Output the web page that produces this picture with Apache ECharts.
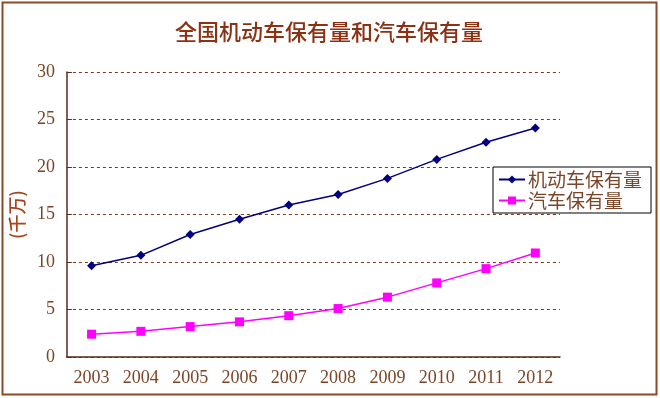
<!DOCTYPE html>
<html>
<head>
<meta charset="utf-8">
<script src="https://cdn.jsdelivr.net/npm/echarts@6/dist/echarts.min.js"></script>
<style>
html, body { margin: 0; padding: 0; background: #fff; }
#main { width: 660px; height: 398px; }
</style>
</head>
<body>
<div id="main"></div>
<script>
// years on the x axis
var years = ['2003', '2004', '2005', '2006', '2007', '2008', '2009', '2010', '2011', '2012'];
// 全国机动车保有量 (千万)
var motorVehicles = [9.6, 10.7, 12.9, 14.5, 16.0, 17.1, 18.8, 20.8, 22.6, 24.1];
// 汽车保有量 (千万)
var cars = [2.4, 2.7, 3.2, 3.7, 4.35, 5.1, 6.3, 7.8, 9.3, 10.95];

var chartDom = document.getElementById('main');
var myChart = echarts.init(chartDom);

var brown = '#7a4528';
var numFont = '"Liberation Serif", "DejaVu Serif", serif';
var cjkFont = '"Noto Sans CJK SC", sans-serif';

var option = {
  backgroundColor: '#fff',
  animation: false,
  title: {
    text: '全国机动车保有量和汽车保有量',
    left: 329,
    textAlign: 'center',
    top: 21,
    padding: 0,
    textStyle: { color: '#8c3214', fontSize: 22, fontWeight: 500, fontFamily: cjkFont }
  },
  legend: {
    orient: 'vertical',
    left: 493,
    top: 167,
    padding: [3, 9, 3, 5],
    itemGap: 2,
    itemWidth: 26,
    itemHeight: 10,
    borderColor: '#000',
    borderWidth: 1,
    backgroundColor: '#fff',
    textStyle: { color: brown, fontSize: 19, fontFamily: cjkFont, padding: [0, 0, 0, -2] },
    data: ['机动车保有量', '汽车保有量']
  },
  grid: { left: 66, right: 100, top: 72, bottom: 41 },
  xAxis: {
    type: 'category',
    data: years,
    axisLine: { lineStyle: { color: '#5a2a1a', width: 1.5 } },
    axisTick: { inside: true, length: 6, lineStyle: { color: '#5a2a1a' } },
    axisLabel: { color: brown, fontSize: 18, fontFamily: numFont, margin: 12 }
  },
  yAxis: {
    type: 'value',
    min: 0,
    max: 30,
    interval: 5,
    name: '(千万)',
    nameLocation: 'middle',
    nameGap: 38,
    nameRotate: 90,
    nameTextStyle: { color: '#a8441c', fontSize: 18, fontWeight: 500, fontFamily: cjkFont },
    axisLine: { show: true, lineStyle: { color: '#5a2a1a', width: 1.5 } },
    axisTick: { show: true, inside: true, length: 5, lineStyle: { color: '#5a2a1a' } },
    axisLabel: { color: brown, fontSize: 18, fontFamily: numFont, margin: 12 },
    splitLine: { lineStyle: { color: '#7a3a20', type: [3, 3], width: 1 } }
  },
  series: [
    {
      name: '机动车保有量',
      type: 'line',
      data: motorVehicles,
      symbol: 'diamond',
      symbolSize: 9,
      itemStyle: { color: '#000080' },
      lineStyle: { color: '#000080', width: 1.5 }
    },
    {
      name: '汽车保有量',
      type: 'line',
      data: cars,
      symbol: 'rect',
      symbolSize: 9,
      itemStyle: { color: '#ff00ff' },
      lineStyle: { color: '#ff00ff', width: 1.5 }
    }
  ],
  graphic: [
    {
      type: 'rect',
      shape: { x: 2.5, y: 2.5, width: 654, height: 392 },
      style: { fill: 'none', stroke: '#8b4a2a', lineWidth: 2 },
      silent: true
    }
  ]
};

option && myChart.setOption(option);
</script>
</body>
</html>
